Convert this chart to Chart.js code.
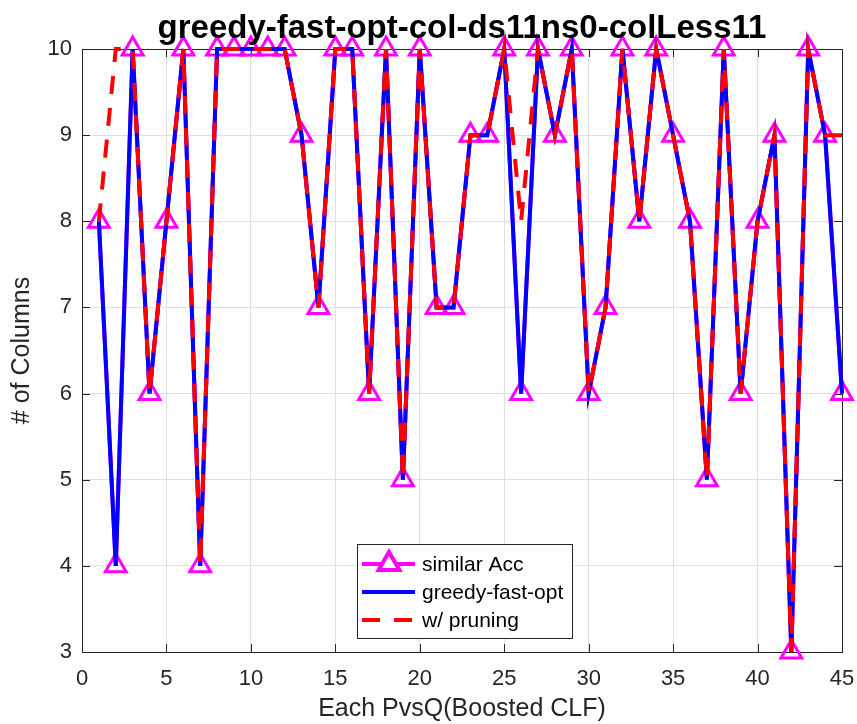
<!DOCTYPE html>
<html>
<head>
<meta charset="utf-8">
<title>greedy-fast-opt-col-ds11ns0-colLess11</title>
<script src="https://cdn.jsdelivr.net/npm/chart.js@4/dist/chart.umd.min.js"></script>
<style>
  html, body { margin: 0; padding: 0; background: #fff; }
  #wrap { width: 857px; height: 724px; }
</style>
</head>
<body>
<div id="wrap"><canvas id="chart" width="857" height="724"></canvas></div>
<script>
// x positions (one per PvsQ)
const xValues = [1, 2, 3, 4, 5, 6, 7, 8, 9, 10, 11, 12, 13, 14, 15, 16, 17, 18, 19, 20, 21, 22, 23,
                 24, 25, 26, 27, 28, 29, 30, 31, 32, 33, 34, 35, 36, 37, 38, 39, 40, 41, 42, 43, 44, 45];

// # of columns per series
const similarAcc = [8, 4, 10, 6, 8, 10, 4, 10, 10, 10, 10, 10, 9, 7, 10, 10, 6, 10, 5, 10, 7, 7, 9,
                    9, 10, 6, 10, 9, 10, 6, 7, 10, 8, 10, 9, 8, 5, 10, 6, 8, 9, 3, 10, 9, 6];
const greedyFastOpt = [8, 4, 10, 6, 8, 10, 4, 10, 10, 10, 10, 10, 9, 7, 10, 10, 6, 10, 5, 10, 7, 7, 9,
                       9, 10, 6, 10, 9, 10, 6, 7, 10, 8, 10, 9, 8, 5, 10, 6, 8, 9, 3, 10, 9, 6];
const withPruning = [8, 10, 10, 6, 8, 10, 4, 10, 10, 10, 10, 10, 9, 7, 10, 10, 6, 10, 5, 10, 7, 7, 9,
                     9, 10, 8, 10, 9, 10, 6, 7, 10, 8, 10, 9, 8, 5, 10, 6, 8, 9, 3, 10, 9, 9];

const xTicks = [0, 5, 10, 15, 20, 25, 30, 35, 40, 45];
const yTicks = [3, 4, 5, 6, 7, 8, 9, 10];

const seriesNames = ['similar Acc', 'greedy-fast-opt', 'w/ pruning'];
const titleText = 'greedy-fast-opt-col-ds11ns0-colLess11';
const xLabel = 'Each PvsQ(Boosted CLF)';
const yLabel = '# of Columns';

const FONT = '"Liberation Sans", Arial, Helvetica, sans-serif';
const AXIS_COLOR = '#262626';
const GRID_COLOR = '#dfdfdf';
const DASH = [18, 14];

function toPoints(ys) {
    return xValues.map((x, i) => ({ x: x, y: ys[i] }));
}

// titre + cadre MATLAB (4 côtés, ticks vers l'intérieur)
const boxPlugin = {
    id: 'matlabBox',
    beforeDatasetsDraw(chart) {
        const { ctx, chartArea: a, scales } = chart;
        ctx.save();
        ctx.strokeStyle = AXIS_COLOR;
        ctx.lineWidth = 1;
        ctx.strokeRect(Math.round(a.left) + 0.5, Math.round(a.top) + 0.5,
            Math.round(a.right - a.left), Math.round(a.bottom - a.top));
        const tl = 8;
        ctx.beginPath();
        xTicks.forEach(v => {
            const px = Math.round(scales.x.getPixelForValue(v)) + 0.5;
            ctx.moveTo(px, a.bottom); ctx.lineTo(px, a.bottom - tl);
            ctx.moveTo(px, a.top); ctx.lineTo(px, a.top + tl);
        });
        yTicks.forEach(v => {
            const py = Math.round(scales.y.getPixelForValue(v)) + 0.5;
            ctx.moveTo(a.left, py); ctx.lineTo(a.left + tl, py);
            ctx.moveTo(a.right, py); ctx.lineTo(a.right - tl, py);
        });
        ctx.stroke();
        ctx.restore();
    },
    afterDraw(chart) {
        const { ctx, chartArea: a } = chart;
        ctx.save();
        ctx.fillStyle = '#000';
        ctx.font = 'bold 33px ' + FONT;
        ctx.textAlign = 'center';
        ctx.textBaseline = 'alphabetic';
        ctx.fillText(titleText, (a.left + a.right) / 2, 38);
        ctx.restore();
    }
};

// légende dans la zone du graphe
const legendPlugin = {
    id: 'insideLegend',
    afterDraw(chart) {
        const { ctx } = chart;
        const box = { x: 357.5, y: 544.5, w: 215, h: 94 };
        const rows = [564, 592, 620];
        ctx.save();
        ctx.fillStyle = '#fff';
        ctx.fillRect(box.x, box.y, box.w, box.h);
        ctx.strokeStyle = AXIS_COLOR;
        ctx.lineWidth = 1;
        ctx.strokeRect(box.x, box.y, box.w, box.h);

        chart.data.datasets.forEach((ds, i) => {
            const y = rows[i];
            ctx.beginPath();
            ctx.strokeStyle = ds.borderColor;
            ctx.lineWidth = ds.borderWidth;
            ctx.setLineDash(ds.borderDash || []);
            ctx.moveTo(362, y);
            ctx.lineTo(415, y);
            ctx.stroke();
            ctx.setLineDash([]);
            if (ds.pointRadius > 0) {
                Chart.helpers.drawPoint(ctx, {
                    pointStyle: 'triangle', radius: ds.pointRadius, rotation: 0,
                    borderWidth: ds.pointBorderWidth
                }, 389, y);
                ctx.strokeStyle = ds.pointBorderColor;
                ctx.lineWidth = ds.pointBorderWidth;
                ctx.stroke();
            }
            ctx.fillStyle = '#000';
            ctx.font = '21px ' + FONT;
            ctx.textAlign = 'left';
            ctx.textBaseline = 'middle';
            ctx.fillText(ds.label, 422, y + 1);
        });
        ctx.restore();
    }
};

const ctx = document.getElementById('chart').getContext('2d');
new Chart(ctx, {
    type: 'line',
    data: {
        datasets: [
            {
                label: seriesNames[0],
                data: toPoints(similarAcc),
                borderColor: '#ff00ff',
                borderWidth: 4,
                pointStyle: 'triangle',
                pointRadius: 12,
                pointBorderWidth: 3,
                pointBorderColor: '#ff00ff',
                pointBackgroundColor: 'rgba(0,0,0,0)',
                tension: 0,
                clip: false,
                order: 3
            },
            {
                label: seriesNames[1],
                data: toPoints(greedyFastOpt),
                borderColor: '#0000ff',
                borderWidth: 4,
                pointRadius: 0,
                tension: 0,
                clip: false,
                order: 2
            },
            {
                label: seriesNames[2],
                data: toPoints(withPruning),
                borderColor: '#ff0000',
                borderWidth: 4,
                borderDash: DASH,
                pointRadius: 0,
                tension: 0,
                clip: false,
                order: 1
            }
        ]
    },
    options: {
        responsive: false,
        animation: false,
        events: [],
        layout: { padding: { left: 0, right: 12, top: 49, bottom: 0 } },
        plugins: {
            legend: { display: false },
            title: { display: false },
            tooltip: { enabled: false }
        },
        scales: {
            x: {
                type: 'linear',
                min: 0, max: 45,
                afterFit: s => { s.height = 72; s.paddingLeft = 0; s.paddingRight = 0; },
                afterBuildTicks: s => { s.ticks = xTicks.map(v => ({ value: v })); },
                grid: { color: GRID_COLOR, drawTicks: false },
                border: { display: false },
                ticks: {
                    padding: 14, maxRotation: 0, color: AXIS_COLOR,
                    font: { family: FONT, size: 22 }
                },
                title: {
                    display: true, text: xLabel, color: AXIS_COLOR,
                    font: { family: FONT, size: 25 }, padding: 0
                }
            },
            y: {
                type: 'linear',
                min: 3, max: 10,
                afterFit: s => { s.width = 82; s.paddingTop = 0; s.paddingBottom = 0; },
                afterBuildTicks: s => { s.ticks = yTicks.map(v => ({ value: v })); },
                grid: { color: GRID_COLOR, drawTicks: false },
                border: { display: false },
                ticks: {
                    padding: 10, color: AXIS_COLOR,
                    font: { family: FONT, size: 22 }
                },
                title: {
                    display: true, text: yLabel, color: AXIS_COLOR,
                    font: { family: FONT, size: 25 }, padding: { top: 7, bottom: 0 }
                }
            }
        }
    },
    plugins: [boxPlugin, legendPlugin]
});
</script>
</body>
</html>
